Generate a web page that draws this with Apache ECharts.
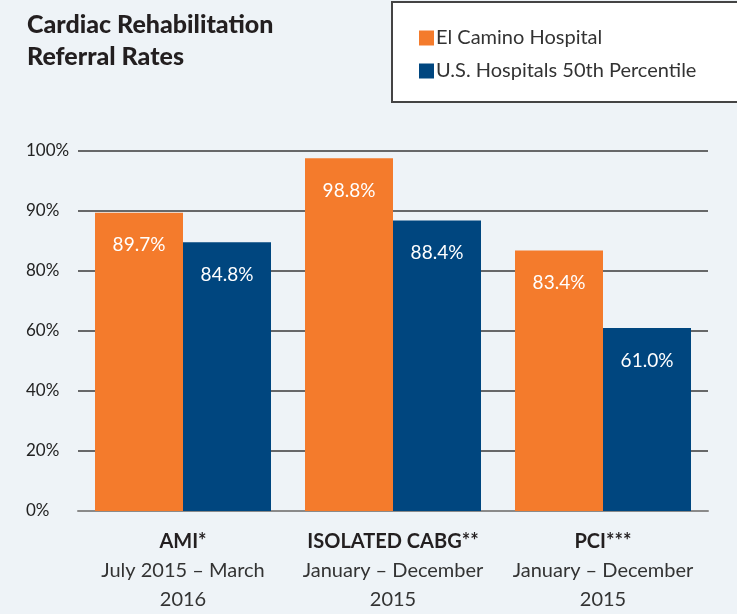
<!DOCTYPE html>
<html>
<head>
<meta charset="utf-8">
<script src="https://cdn.jsdelivr.net/npm/echarts@6/dist/echarts.min.js"></script>
<style>
  html, body { margin: 0; padding: 0; background: #eef3f7; }
  #chart { width: 737px; height: 614px; }
</style>
</head>
<body>
<div id="chart"></div>
<script>
// 数据
var categories = ["AMI*", "ISOLATED CABG**", "PCI***"];
var periods = ["July 2015 \u2013 March\n2016", "January \u2013 December\n2015", "January \u2013 December\n2015"];
var elCamino = [89.7, 98.8, 83.4];
var usHospitals = [84.8, 88.4, 61.0];
var tickValues = [0, 20, 40, 60, 80, 90, 100];

// 刻度不是线性的，按刻度分段换算到轴上的位置
function toAxis(v) {
    for (var i = 1; i < tickValues.length; i++) {
        if (v <= tickValues[i]) {
            var lo = tickValues[i - 1], hi = tickValues[i];
            return i - 1 + (v - lo) / (hi - lo);
        }
    }
    return tickValues.length - 1;
}

(function () {
    var myChart = echarts.init(document.getElementById("chart"));
    var font = "Lato, 'Open Sans', sans-serif";

    function series(name, values, color) {
        return {
            name: name,
            type: "bar",
            barWidth: 88,
            barGap: "0%",
            data: values.map(function (v) {
                return { value: toAxis(v), raw: v };
            }),
            itemStyle: { color: color },
            label: {
                show: true,
                position: "insideTop",
                distance: 23,
                color: "#fff",
                fontFamily: font,
                fontSize: 19,
                formatter: function (p) {
                    return p.data.raw.toFixed(1) + "%";
                }
            }
        };
    }

    var option = {
        backgroundColor: "#eef3f7",
        animation: false,
        textStyle: { fontFamily: font },
        title: {
            text: "Cardiac Rehabilitation\nReferral Rates",
            left: 22,
            top: 4,
            textStyle: {
                fontFamily: font,
                fontSize: 25,
                fontWeight: 900,
                color: "#231f20",
                lineHeight: 32
            }
        },
        // 图例外框
        graphic: [
            {
                type: "rect",
                shape: { x: 392, y: 2, width: 350, height: 100 },
                style: { fill: "#fff", stroke: "#444", lineWidth: 2 },
                z: 0
            }
        ],
        legend: {
            orient: "vertical",
            left: 414,
            top: 23,
            itemWidth: 15,
            itemHeight: 15,
            itemGap: 13,
            icon: "rect",
            z: 5,
            textStyle: { fontFamily: font, fontSize: 20, color: "#333", padding: [0, 0, 0, -3] },
            data: ["El Camino Hospital", "U.S. Hospitals 50th Percentile"]
        },
        grid: {
            left: 78,
            right: 29,
            top: 151,
            bottom: 103
        },
        xAxis: {
            type: "category",
            data: categories,
            axisTick: { show: false },
            axisLine: { lineStyle: { color: "#8a8a8a", width: 2 } },
            axisLabel: {
                margin: 16,
                interval: 0,
                formatter: function (v, i) {
                    return "{b|" + v + "}\n{n|" + periods[i].replace("\n", "}\n{n|") + "}";
                },
                rich: {
                    b: { fontFamily: font, fontSize: 20, fontWeight: "bold", color: "#231f20", lineHeight: 29 },
                    n: { fontFamily: font, fontSize: 20, color: "#333", lineHeight: 29 }
                }
            }
        },
        yAxis: {
            type: "value",
            min: 0,
            max: tickValues.length - 1,
            interval: 1,
            axisLine: { show: false },
            axisTick: { show: false },
            axisLabel: {
                align: "left",
                margin: 52,
                fontFamily: font,
                fontSize: 17,
                color: "#222",
                formatter: function (v) {
                    return tickValues[v] + "%";
                }
            },
            splitLine: { lineStyle: { color: "#3a3a3a", width: 1.5 } }
        },
        series: [
            series("El Camino Hospital", elCamino, "#f47b2c"),
            series("U.S. Hospitals 50th Percentile", usHospitals, "#00467f")
        ]
    };
    myChart.setOption(option);
})();
</script>
</body>
</html>
